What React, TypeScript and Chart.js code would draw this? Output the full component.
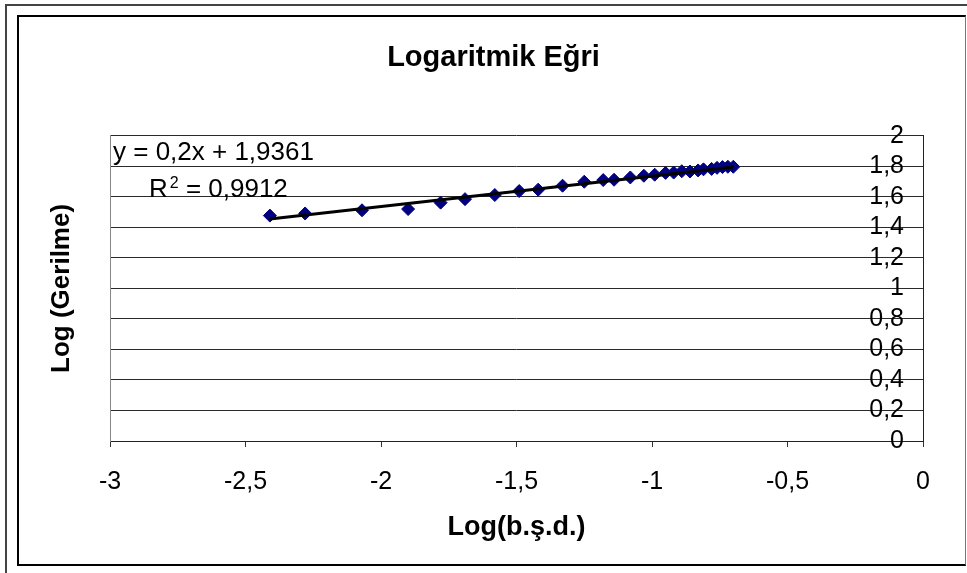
import React, { useEffect, useRef } from 'react';
import { Chart, registerables } from 'chart.js';

Chart.register(...registerables);

const FONT = '"Liberation Sans", Arial, Helvetica, sans-serif';

const chartTitle = 'Logaritmik Eğri';
const xAxisTitle = 'Log(b.ş.d.)';
const yAxisTitle = 'Log (Gerilme)';

const logStrainRate = [
  -2.41, -2.28, -2.07, -1.9, -1.78, -1.69, -1.58, -1.49, -1.42, -1.33, -1.25,
  -1.18, -1.14, -1.08, -1.03, -0.99, -0.95, -0.92, -0.89, -0.86, -0.83, -0.81,
  -0.78, -0.76, -0.74, -0.72, -0.7,
];
const logStress = [
  1.477, 1.491, 1.512, 1.52, 1.562, 1.585, 1.612, 1.638, 1.647, 1.673, 1.699,
  1.71, 1.712, 1.727, 1.738, 1.745, 1.757, 1.759, 1.768, 1.766, 1.773, 1.78,
  1.783, 1.79, 1.795, 1.797, 1.797,
];

const trendSlope = 0.2;
const trendIntercept = 1.9361;
const equationText = 'y = 0,2x + 1,9361';
const rSquaredText = '0,9912';

const xTickLabels = ['-3', '-2,5', '-2', '-1,5', '-1', '-0,5', '0'];
const yTickLabels = ['0', '0,2', '0,4', '0,6', '0,8', '1', '1,2', '1,4', '1,6', '1,8', '2'];

const trendLabelPlugin = {
  id: 'trendLabel',
  afterDatasetsDraw(chart: any) {
    const { ctx, chartArea } = chart;
    ctx.save();
    ctx.fillStyle = '#000';
    ctx.textAlign = 'left';
    ctx.textBaseline = 'alphabetic';
    ctx.font = `26px ${FONT}`;
    ctx.fillText(equationText, chartArea.left + 3, chartArea.top + 24);
    const rx = chartArea.left + 39;
    const ry = chartArea.top + 61;
    ctx.fillText('R', rx, ry);
    const rw = ctx.measureText('R').width;
    ctx.font = `16px ${FONT}`;
    ctx.fillText('2', rx + rw + 2, ry - 9);
    const sw = ctx.measureText('2').width;
    ctx.font = `26px ${FONT}`;
    ctx.fillText(' = ' + rSquaredText, rx + rw + 2 + sw, ry);
    ctx.restore();
  },
};

export default function App() {
  const ref = useRef<HTMLCanvasElement>(null);

  useEffect(() => {
    const xMin = Math.min(...logStrainRate);
    const xMax = Math.max(...logStrainRate);
    const trendData = [
      { x: xMin, y: trendSlope * xMin + trendIntercept },
      { x: xMax, y: trendSlope * xMax + trendIntercept },
    ];
    const points = logStrainRate.map((x, i) => ({ x, y: logStress[i] }));

    const chart = new Chart(ref.current!, {
      type: 'scatter',
      data: {
        datasets: [
          {
            label: 'Trend',
            data: trendData,
            showLine: true,
            borderColor: '#000',
            borderWidth: 3,
            pointRadius: 0,
            pointHoverRadius: 0,
            yAxisID: 'y',
          },
          {
            label: 'Veri',
            data: points,
            pointStyle: 'rectRot',
            pointRadius: 6.5,
            backgroundColor: '#000080',
            borderColor: '#000080',
            borderWidth: 1,
            yAxisID: 'y',
          },
        ],
      },
      options: {
        responsive: false,
        animation: false,
        devicePixelRatio: 1,
        layout: { padding: { left: 20, right: 0, top: 0, bottom: 0 } },
        plugins: {
          legend: { display: false },
          tooltip: { enabled: false },
          title: {
            display: true,
            text: chartTitle,
            color: '#000',
            font: { family: FONT, size: 29, weight: 'bold' },
            padding: { top: 41, bottom: 60 },
          },
        },
        scales: {
          x: {
            type: 'linear',
            position: 'bottom',
            min: -3,
            max: 0,
            ticks: {
              stepSize: 0.5,
              padding: 20,
              color: '#000',
              maxRotation: 0,
              autoSkip: false,
              font: { family: FONT, size: 25 },
              callback: (_v: any, i: number) => xTickLabels[i] ?? '',
            },
            grid: {
              drawOnChartArea: false,
              drawTicks: true,
              tickLength: 6,
              tickColor: '#333',
              lineWidth: 1,
            },
            border: { display: true, color: '#222', width: 1 },
            title: {
              display: true,
              text: xAxisTitle,
              color: '#000',
              font: { family: FONT, size: 27, weight: 'bold' },
              padding: { top: 0, bottom: 29 },
            },
            afterFit: (s: any) => {
              s.height = 132;
            },
          },
          y: {
            type: 'linear',
            position: 'right',
            min: 0,
            max: 2,
            ticks: {
              stepSize: 0.2,
              mirror: true,
              padding: -19,
              autoSkip: false,
              color: '#000',
              font: { family: FONT, size: 25 },
              callback: (_v: any, i: number) => yTickLabels[i] ?? '',
            },
            grid: { color: '#2a2a2a', lineWidth: 1, drawTicks: false },
            border: { display: true, color: '#222', width: 1 },
            afterFit: (s: any) => {
              s.width = 44;
            },
          },
          y2: {
            type: 'linear',
            position: 'left',
            grid: { display: false, drawOnChartArea: false, drawTicks: false },
            ticks: { display: false },
            border: { display: true, color: '#888', width: 1 },
            title: {
              display: true,
              text: yAxisTitle,
              color: '#000',
              font: { family: FONT, size: 26, weight: 'bold' },
              padding: { top: 26, bottom: 0 },
            },
            afterFit: (s: any) => {
              s.width = 90;
            },
          },
        },
      } as any,
      plugins: [trendLabelPlugin],
    });
    return () => chart.destroy();
  }, []);

  return (
    <div
      style={{
        position: 'absolute',
        left: 0,
        top: 0,
        width: 967,
        height: 573,
        overflow: 'hidden',
        background: '#fff',
      }}
    >
      <div
        style={{
          position: 'absolute',
          left: 5,
          top: 4,
          width: 1000,
          height: 1000,
          borderTop: '2px solid #444',
          borderLeft: '2px solid #444',
        }}
      />
      <div
        style={{
          position: 'absolute',
          left: 17,
          top: 15,
          width: 949,
          height: 551,
          boxSizing: 'border-box',
          borderTop: '2px solid #000',
          borderLeft: '2px solid #000',
          borderBottom: '2px solid #000',
          borderRight: '1px solid #777',
        }}
      />
      <canvas
        ref={ref}
        width={967}
        height={573}
        style={{ position: 'absolute', left: 0, top: 0, width: 967, height: 573 }}
      />
    </div>
  );
}
